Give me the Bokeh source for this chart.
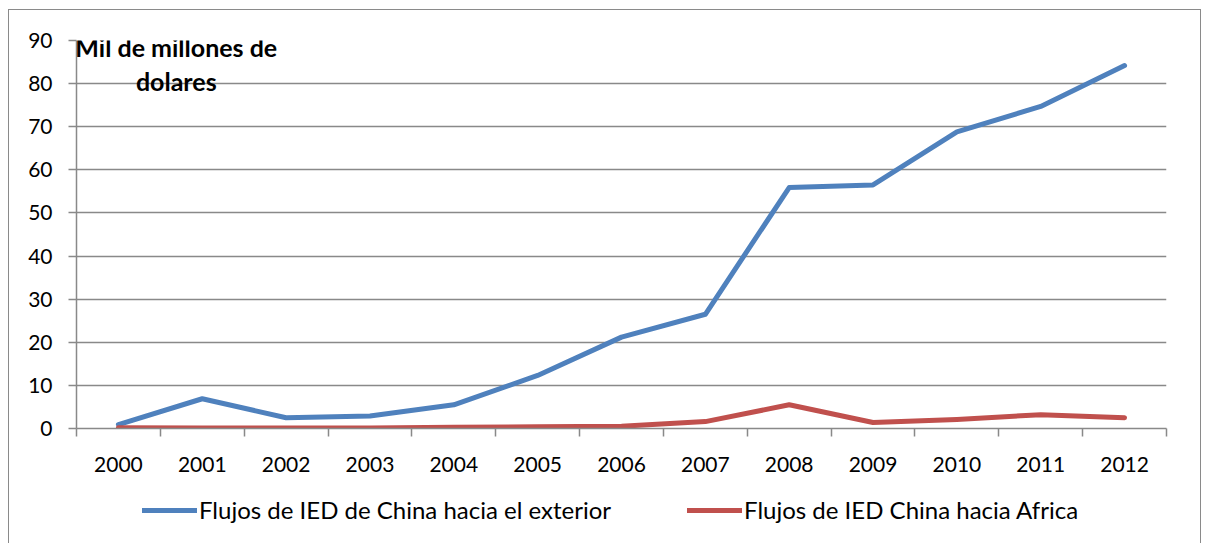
from bokeh.plotting import figure
from bokeh.layouts import column
from bokeh.models import FixedTicker, Legend, LegendItem, Label, Range1d
from bokeh.embed import file_html
from bokeh.resources import INLINE

years = ["2000", "2001", "2002", "2003", "2004", "2005", "2006",
         "2007", "2008", "2009", "2010", "2011", "2012"]
flujos_exterior = [0.9, 6.9, 2.5, 2.9, 5.5, 12.3, 21.2, 26.5, 55.9, 56.5, 68.8, 74.7, 84.2]
flujos_africa = [0.2, 0.1, 0.1, 0.1, 0.3, 0.4, 0.5, 1.6, 5.5, 1.4, 2.1, 3.2, 2.5]
y_ticks = [0, 10, 20, 30, 40, 50, 60, 70, 80, 90]
series_names = ["Flujos de IED de China hacia el exterior", "Flujos de IED China hacia Africa"]

FONT = "Lato"
GRAY = "#898989"
BLUE = "#4F81BD"
RED = "#C0504D"

xs = list(range(len(years)))

p = figure(frame_width=1088, frame_height=387, output_backend="svg",
           toolbar_location=None, min_border_left=67, min_border_right=36,
           min_border_top=30, min_border_bottom=62,
           x_range=Range1d(-0.5, len(years) - 0.5), y_range=Range1d(0, 90))
p.outline_line_color = None
p.background_fill_color = "white"
p.border_fill_color = "white"
p.styles = {"border-left": "1.5px solid #8a8a8a", "border-top": "1.5px solid #8a8a8a",
            "border-right": "1.5px solid #8a8a8a", "margin-left": "8px", "margin-top": "9px"}

p.line(xs, flujos_exterior, line_color=BLUE, line_width=5, line_cap="round", line_join="round")
p.line(xs, flujos_africa, line_color=RED, line_width=5, line_cap="round", line_join="round")

# x axis
p.xaxis.ticker = FixedTicker(ticks=xs, minor_ticks=[i - 0.5 for i in range(len(years) + 1)])
p.xaxis.major_label_overrides = {i: y for i, y in enumerate(years)}
p.xaxis.major_tick_out = 0
p.xaxis.major_tick_in = 0
p.xaxis.minor_tick_out = 8
p.xaxis.minor_tick_in = 0
p.xaxis.minor_tick_line_color = GRAY
p.xaxis.minor_tick_line_width = 1.5
p.xaxis.axis_line_color = GRAY
p.xaxis.axis_line_width = 1.5
p.xaxis.major_label_standoff = 20
p.xaxis.major_label_text_font = FONT
p.xaxis.major_label_text_font_size = "21px"
p.xaxis.major_label_text_color = "black"
p.xgrid.grid_line_color = None

# y axis
p.yaxis.ticker = FixedTicker(ticks=y_ticks)
p.yaxis.major_tick_out = 8
p.yaxis.major_tick_in = 0
p.yaxis.minor_tick_line_color = None
p.yaxis.major_tick_line_color = GRAY
p.yaxis.major_tick_line_width = 1.5
p.yaxis.axis_line_color = GRAY
p.yaxis.axis_line_width = 1.5
p.yaxis.major_label_standoff = 16
p.yaxis.major_label_text_font = FONT
p.yaxis.major_label_text_font_size = "21px"
p.yaxis.major_label_text_color = "black"
p.ygrid.grid_line_color = GRAY
p.ygrid.grid_line_width = 1.5

# annotation
for txt, yy in [("Mil de millones de", 88.4), ("dolares", 80.7)]:
    p.add_layout(Label(x=0.69, y=yy, text=txt, text_align="center", text_baseline="middle",
                       text_font=FONT, text_font_style="bold", text_font_size="25px",
                       text_color="black"))

# legend strip (same series, drawn outside its visible range; only the legend shows)
lf = figure(frame_width=1191, frame_height=54, output_backend="svg", toolbar_location=None,
            min_border_left=0, min_border_right=0, min_border_top=0, min_border_bottom=0,
            x_range=Range1d(-0.5, len(years) - 0.5), y_range=Range1d(1000, 1001))
lf.axis.visible = False
lf.grid.visible = False
lf.outline_line_color = None
lf.background_fill_color = "white"
lf.border_fill_color = "white"
lf.styles = {"border-left": "1.5px solid #8a8a8a", "border-right": "1.5px solid #8a8a8a",
             "margin-left": "8px"}
l1 = lf.line(xs, flujos_exterior, line_color=BLUE, line_width=5, line_cap="round")
l2 = lf.line(xs, flujos_africa, line_color=RED, line_width=5, line_cap="round")

legend = Legend(items=[LegendItem(label=series_names[0], renderers=[l1]),
                       LegendItem(label=series_names[1], renderers=[l2])],
                orientation="horizontal", location=(133, 19),
                glyph_width=55, glyph_height=20, spacing=76, label_standoff=2,
                label_text_font=FONT, label_text_font_size="24px", label_text_color="black",
                border_line_color=None, background_fill_alpha=0, margin=0, padding=0)
lf.add_layout(legend, "center")

layout = column(p, lf, spacing=0)
open("out.html", "w").write(file_html(layout, INLINE))
